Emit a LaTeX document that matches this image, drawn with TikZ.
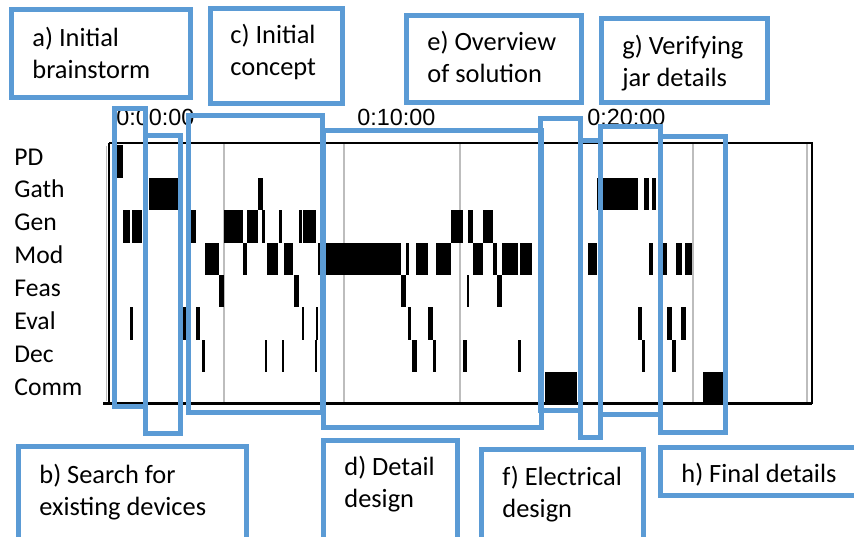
\documentclass[tikz,border=0pt]{standalone}
\usepackage{fontspec}
\usepackage{xcolor}
\setmainfont{Carlito}
\newfontfamily\timefont{Liberation Sans}
\definecolor{segblue}{HTML}{5B9BD5}
\definecolor{gridgray}{HTML}{BDBDBD}

\begin{document}
\begin{tikzpicture}[x=0.5pt,y=-0.5pt,
    segbox/.style={draw=segblue,line width=2.5pt},
    lbltext/.style={anchor=base west,align=left,inner sep=0pt,font=\fontsize{13.2}{16}\selectfont},
    rowlbl/.style={anchor=base west,inner sep=0pt,font=\fontsize{12.8}{15}\selectfont},
    timelbl/.style={anchor=base west,inner sep=0pt,font=\timefont\fontsize{11.7}{14}\selectfont}]
    \useasboundingbox (0,0) rectangle (854,536);

    % grid lines
    \foreach \gx in {224,344,460,579,693,807}
        \draw[gridgray,line width=0.8pt] (\gx,143) -- (\gx,403);
    \draw[gridgray,line width=0.6pt] (106.3,146) -- (106.3,401);

    % activity bars, one list per row
    \foreach \r/\bars in {
        0/{116/123},
        1/{149/178,258/263,597/638,644/649,652/656},
        2/{123/130,132/142,189/196,224/243,247/258,262/265,279/282,299/302,303/316,451/463,468/473,483/493},
        3/{205/219,243/247,267/278,284/293,318/401,406/409,416/428,436/451,473/483,493/497,502/518,520/532,588/597,649/653,658/667,676/682,685/692},
        4/{219/224,294/299,401/406,467/469,497/502},
        5/{130/133,183/186,196/200,302/304,316/318,408/411,428/433,638/642,667/672,681/686},
        6/{202/205,265/267,282/284,315/317,412/417,433/436,463/467,518/521,642/645,672/676},
        7/{545/577,703/723}}
        \foreach \a/\b in \bars
            \fill[black] (\a,{145.3+32.4*\r}) rectangle (\b,{177.7+32.4*\r});

    % chart frame
    \draw[line width=1pt] (109,142.5) -- (812,142.5) -- (812,403.5);
    \draw[line width=1.3pt] (109,142.5) -- (109,403.5);
    \draw[line width=1.5pt] (103,403.5) -- (812,403.5);

    % activity names
    \foreach \nm/\lbl [count=\k from 0] in {pd/PD,gath/Gath,gen/Gen,mod/Mod,feas/Feas,eval/Eval,dec/Dec,comm/Comm}
        \node[rowlbl] (\nm) at (14,{165+32.9*\k}) {\lbl};

    % time axis
    \node[timelbl] (t0) at (116,125) {0:00:00};
    \node[timelbl] (t10) at (357,125) {0:10:00};
    \node[timelbl] (t20) at (587,125) {0:20:00};

    % segments
    \draw[segbox] (114,108) rectangle (145.5,406);
    \draw[segbox] (145.5,135.5) rectangle (180.5,433);
    \draw[segbox] (188,115.5) rectangle (322,412);
    \draw[segbox] (323,130) rectangle (541,427);
    \draw[segbox] (540,118) rectangle (580,410);
    \draw[segbox] (580,140) rectangle (600,437);
    \draw[segbox] (600,126) rectangle (660,414);
    \draw[segbox] (660,136) rectangle (725,432);

    % segment labels (base = last line)
    \draw[segbox] (11,9) rectangle (190,97);
    \node[lbltext] (la) at (32,78) {a) Initial\\brainstorm};
    \draw[segbox] (210,8) rectangle (342,103);
    \node[lbltext] (lc) at (230,75) {c) Initial\\concept};
    \draw[segbox] (406,15) rectangle (581,102);
    \node[lbltext] (le) at (427,82) {e) Overview\\of solution};
    \draw[segbox] (601,18) rectangle (767,102);
    \node[lbltext] (lg) at (622,86) {g) Verifying\\jar details};
    \draw[segbox] (18,446) rectangle (246,545);
    \node[lbltext] (lb) at (39,515) {b) Search for\\existing devices};
    \draw[segbox] (323,440) rectangle (457,545);
    \node[lbltext] (ld) at (344,507) {d) Detail\\design};
    \draw[segbox] (481,449) rectangle (643,545);
    \node[lbltext] (lf) at (502,517) {f) Electrical\\design};
    \draw[segbox] (660,447) rectangle (870,495);
    \node[lbltext] (lh) at (681,482) {h) Final details};
\end{tikzpicture}
\end{document}
